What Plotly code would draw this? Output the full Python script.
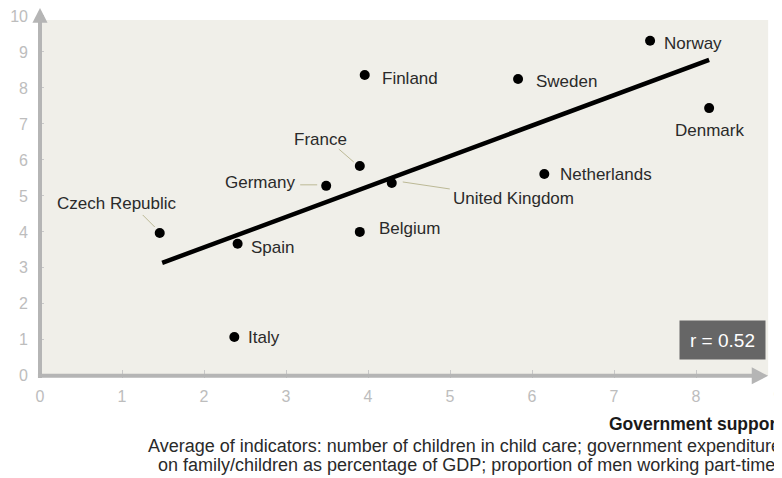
import plotly.graph_objects as go

# ---------------- data ----------------
countries = ["Czech Republic", "Spain", "Italy", "Germany", "France", "Finland",
             "Belgium", "United Kingdom", "Sweden", "Netherlands", "Norway", "Denmark"]
support = [1.46, 2.41, 2.37, 3.49, 3.90, 3.96, 3.90, 4.29, 5.83, 6.15, 7.44, 8.16]
fertility = [3.97, 3.67, 1.08, 5.28, 5.83, 8.36, 4.00, 5.36, 8.25, 5.61, 9.31, 7.44]

trend_x = [1.49, 8.16]
trend_y = [3.14, 8.78]

x_ticks = [0, 1, 2, 3, 4, 5, 6, 7, 8, 9]
y_ticks = [0, 1, 2, 3, 4, 5, 6, 7, 8, 9, 10]

r_text = "r = 0.52"
x_title = "Government support"
x_note1 = "Average of indicators: number of children in child care; government expenditure"
x_note2 = "on family/children as percentage of GDP; proportion of men working part-time"

# ---------------- layout geometry ----------------
W, H = 782, 478
OFF = 8  # page body margin
ML, MR, MT, MB = 30, 10, 0, 108
XR = [-0.0244, 9.0244]
YR = [-0.06, 10.222]
PW = W - ML - MR
PH = H - MT - MB

def xp(v):  # data x -> paper
    return (v - XR[0]) / (XR[1] - XR[0])

def yp(v):  # data y -> paper
    return (v - YR[0]) / (YR[1] - YR[0])

def pxx(px):  # page pixel x -> paper
    return (px - OFF - ML) / PW

def pxy(py):  # page pixel y -> paper
    return (H - MB - (py - OFF)) / PH

FONT = "Liberation Sans, Arial, Helvetica, sans-serif"
AXIS_COL = "#b5b5b5"
BG = "#f0efe9"
LEADER = "#bcb996"

# label styles: xanchor, xshift, yshift
label_style = {
    "Czech Republic": ("center", -43, 29),
    "Spain": ("left", 11, -4),
    "Italy": ("left", 12, -1),
    "Germany": ("right", -29, 3),
    "France": ("center", -39, 27),
    "Finland": ("left", 15, -3),
    "Belgium": ("left", 17, 3),
    "United Kingdom": ("left", 59, -16),
    "Sweden": ("left", 16, -3),
    "Netherlands": ("left", 14, -1),
    "Norway": ("left", 12, -3),
    "Denmark": ("center", 0, -22),
}
# leader lines: pixel offsets from the dot (x0, y0, x1, y1), y up
leader_style = {
    "Czech Republic": (-17, 18, -5, 6),
    "Germany": (-26, 1, -9, 1),
    "France": (-21, 17, -6, 4),
    "United Kingdom": (11, 1, 58, -6),
}

fig = go.Figure()

fig.add_trace(go.Scatter(
    x=trend_x, y=trend_y, mode="lines",
    line=dict(color="black", width=4.5), hoverinfo="skip", showlegend=False))

fig.add_trace(go.Scatter(
    x=support, y=fertility, mode="markers", text=countries,
    marker=dict(color="black", size=10), showlegend=False))

shapes = []
# beige plot background
shapes.append(dict(type="rect", xref="x", yref="y", x0=0, x1=8.88, y0=0, y1=9.89,
                   fillcolor=BG, line=dict(width=0), layer="below"))
# axis lines
shapes.append(dict(type="line", xref="paper", yref="paper",
                   x0=xp(0), x1=xp(0), y0=yp(-0.06), y1=yp(9.83),
                   line=dict(color=AXIS_COL, width=4)))
shapes.append(dict(type="line", xref="paper", yref="paper",
                   x0=xp(-0.025), x1=xp(8.70), y0=yp(0), y1=yp(0),
                   line=dict(color=AXIS_COL, width=4)))
# arrow heads
shapes.append(dict(type="path", xref="paper", yref="paper",
                   path=f"M {xp(-0.092)},{yp(9.81)} L {xp(0.092)},{yp(9.81)} L {xp(0)},{yp(10.22)} Z",
                   fillcolor=AXIS_COL, line=dict(width=0)))
shapes.append(dict(type="path", xref="paper", yref="paper",
                   path=f"M {xp(8.68)},{yp(-0.236)} L {xp(8.68)},{yp(0.236)} L {xp(8.88)},{yp(0)} Z",
                   fillcolor=AXIS_COL, line=dict(width=0)))
# leader lines
for name, (x0, y0, x1, y1) in leader_style.items():
    i = countries.index(name)
    shapes.append(dict(type="line", xref="x", yref="y",
                       xsizemode="pixel", ysizemode="pixel",
                       xanchor=support[i], yanchor=fertility[i],
                       x0=x0, x1=x1, y0=y0, y1=y1,
                       line=dict(color=LEADER, width=1)))

annotations = []
for name, xv, yv in zip(countries, support, fertility):
    xa, xs, ys = label_style[name]
    annotations.append(dict(x=xv, y=yv, xref="x", yref="y", text=name,
                            showarrow=False, xanchor=xa, yanchor="middle",
                            xshift=xs, yshift=ys,
                            font=dict(family=FONT, size=17, color="#2a2a2a")))

annotations.append(dict(x=8.32, y=1.0, xref="x", yref="y", text=r_text,
                        showarrow=False, xanchor="center", yanchor="middle",
                        width=81, height=34, borderpad=2, bgcolor="#666666",
                        font=dict(family=FONT, size=19, color="white")))

annotations.append(dict(x=pxx(607), y=pxy(424), xref="paper", yref="paper",
                        text="<b>" + x_title + "</b>", showarrow=False,
                        xanchor="left", yanchor="middle",
                        font=dict(family=FONT, size=17.5, color="#1a1a1a")))
annotations.append(dict(x=pxx(146), y=pxy(446), xref="paper", yref="paper",
                        text=x_note1, showarrow=False,
                        xanchor="left", yanchor="middle",
                        font=dict(family=FONT, size=18, color="#2a2a2a")))
annotations.append(dict(x=pxx(156), y=pxy(465), xref="paper", yref="paper",
                        text=x_note2, showarrow=False,
                        xanchor="left", yanchor="middle",
                        font=dict(family=FONT, size=18, color="#2a2a2a")))

fig.update_layout(
    width=W, height=H,
    margin=dict(l=ML, r=MR, t=MT, b=MB, pad=0),
    paper_bgcolor="white", plot_bgcolor="white",
    shapes=shapes, annotations=annotations,
    showlegend=False,
    xaxis=dict(range=XR, tickvals=x_ticks, ticktext=[str(v) for v in x_ticks],
               showgrid=False, zeroline=False, showline=False,
               ticks="inside", ticklen=8, tickcolor="#c8c8c8", tickwidth=1,
               ticklabelstandoff=7, ticklabeloverflow="allow",
               tickfont=dict(family=FONT, size=16, color="#bdbdbd")),
    yaxis=dict(range=YR, tickvals=y_ticks, ticktext=[str(v) for v in y_ticks],
               showgrid=False, zeroline=False, showline=False,
               ticks="inside", ticklen=6, tickcolor="#c8c8c8", tickwidth=1,
               ticklabelstandoff=9, ticklabeloverflow="allow",
               tickfont=dict(family=FONT, size=16, color="#bdbdbd")),
)

fig.write_html("out.html")
